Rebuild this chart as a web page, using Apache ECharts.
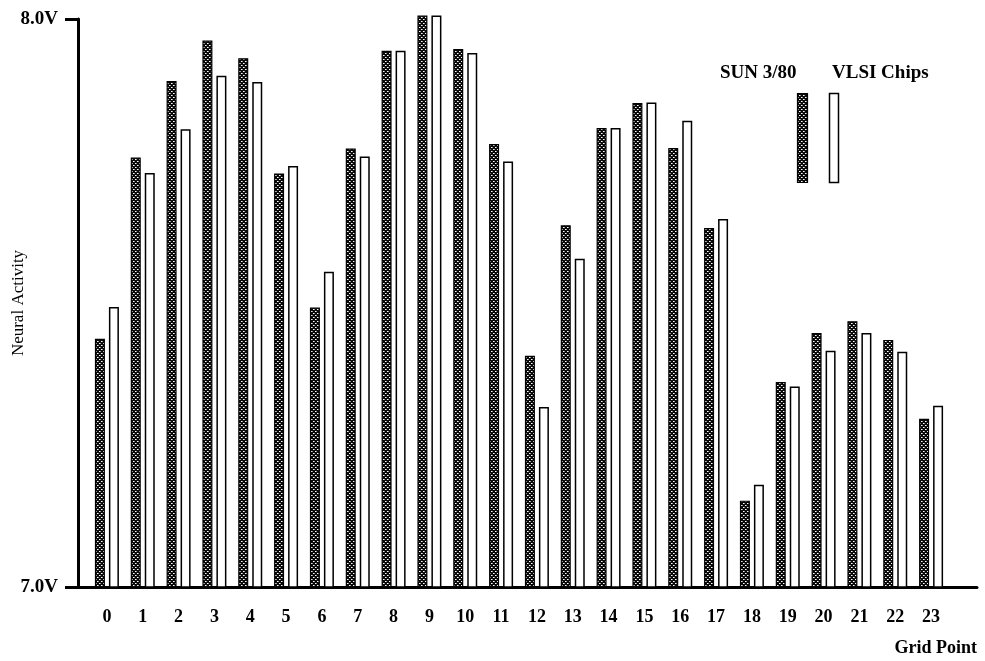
<!DOCTYPE html>
<html>
<head>
<meta charset="utf-8">
<title>Neural Activity</title>
<script src="https://cdn.jsdelivr.net/npm/echarts@6/dist/echarts.min.js"></script>
<style>
  html, body { margin: 0; padding: 0; background: #fff; }
  #chart { width: 985px; height: 661px; }
</style>
</head>
<body>
<div id="chart"></div>
<script>
  /** grid points on the x axis */
  const gridPoints = ['0', '1', '2', '3', '4', '5', '6', '7', '8', '9', '10', '11',
    '12', '13', '14', '15', '16', '17', '18', '19', '20', '21', '22', '23']

  /** SUN 3/80 simulation (volts) */
  const sunValues = [7.437, 7.756, 7.891, 7.962, 7.931, 7.728, 7.492, 7.772, 7.944, 8.006, 7.947, 7.780,
    7.407, 7.637, 7.808, 7.852, 7.773, 7.632, 7.152, 7.361, 7.447, 7.468, 7.435, 7.296]

  /** VLSI chips measurement (volts) */
  const vlsiValues = [7.493, 7.729, 7.806, 7.900, 7.889, 7.741, 7.555, 7.758, 7.944, 8.006, 7.940, 7.749,
    7.317, 7.578, 7.808, 7.853, 7.821, 7.648, 7.180, 7.353, 7.416, 7.447, 7.414, 7.319]

  /** y axis range (bars get a little headroom so bar 9 is not clipped) */
  const yMin = 7
  const yMax = 8
  const barMax = 8.01

  const font = '"Liberation Serif", "Times New Roman", serif'

  /** dotted fill like the old laser-printer screen */
  function makePattern() {
    const c = document.createElement('canvas')
    c.width = 4
    c.height = 4
    const ctx = c.getContext('2d')
    ctx.fillStyle = '#0a0a0a'
    ctx.fillRect(0, 0, 4, 4)
    ctx.fillStyle = '#ffffff'
    ctx.fillRect(1, 1, 1, 1)
    ctx.fillRect(3, 3, 1, 1)
    ctx.fillStyle = '#9a9a9a'
    ctx.fillRect(2, 1, 1, 1)
    ctx.fillRect(0, 3, 1, 1)
    return c
  }
  const dots = makePattern()

  const plotTop = 19
  const plotBottom = 74
  const pxPerVolt = (661 - plotTop - plotBottom) / (yMax - yMin)

  const chart = echarts.init(document.getElementById('chart'))
  chart.setOption({
    animation: false,
    backgroundColor: '#fff',
    grid: [
      /** frame with the axis lines */
      { left: 78, right: 8, top: plotTop, bottom: plotBottom, outerBoundsMode: 'none', containLabel: false },
      /** bars */
      { left: 89, right: 36, top: plotTop - (barMax - yMax) * pxPerVolt, bottom: plotBottom,
        outerBoundsMode: 'none', containLabel: false }
    ],
    xAxis: [
      {
        gridIndex: 0,
        type: 'value',
        min: 0,
        max: 1,
        axisLine: { onZero: false, lineStyle: { color: '#000', width: 3 } },
        axisTick: { show: false },
        axisLabel: { show: false },
        splitLine: { show: false },
        name: 'Grid Point',
        nameLocation: 'end',
        nameGap: 0,
        nameTextStyle: {
          fontFamily: font, fontSize: 18, fontWeight: 'bold', color: '#000',
          align: 'right', verticalAlign: 'top', padding: [52, 0, 0, 0]
        }
      },
      {
        gridIndex: 1,
        type: 'category',
        data: gridPoints,
        axisLine: { show: false },
        axisTick: { show: false },
        axisLabel: { margin: 21, fontFamily: font, fontSize: 18, fontWeight: 'bold', color: '#000' },
        splitLine: { show: false }
      }
    ],
    yAxis: [
      {
        gridIndex: 0,
        type: 'value',
        min: yMin,
        max: yMax,
        interval: 1,
        axisLine: { show: true, onZero: false, lineStyle: { color: '#000', width: 3 } },
        axisTick: { show: true, length: 13, lineStyle: { color: '#000', width: 3 } },
        axisLabel: {
          margin: 20, fontFamily: font, fontSize: 19, fontWeight: 'bold', color: '#000',
          formatter: v => v.toFixed(1) + 'V'
        },
        splitLine: { show: false },
        name: 'Neural Activity',
        nameLocation: 'middle',
        nameGap: 51,
        nameMoveOverlap: false,
        nameTextStyle: { fontFamily: font, fontSize: 17, color: '#000' }
      },
      {
        gridIndex: 1,
        type: 'value',
        min: yMin,
        max: barMax,
        show: false
      }
    ],
    series: [
      {
        name: 'SUN 3/80',
        type: 'bar',
        xAxisIndex: 1,
        yAxisIndex: 1,
        data: sunValues,
        barWidth: 10,
        barGap: '40%',
        itemStyle: { color: { image: dots, repeat: 'repeat' }, borderColor: '#000', borderWidth: 1.2 }
      },
      {
        name: 'VLSI Chips',
        type: 'bar',
        xAxisIndex: 1,
        yAxisIndex: 1,
        data: vlsiValues,
        barWidth: 10,
        itemStyle: { color: '#fff', borderColor: '#000', borderWidth: 1.5 }
      }
    ],
    /** legend drawn as in the original: labels over tall swatches */
    graphic: [
      { type: 'text', left: 720, top: 64, style: { text: 'SUN 3/80', font: 'bold 19px ' + font, fill: '#000' } },
      { type: 'text', left: 832, top: 64, style: { text: 'VLSI Chips', font: 'bold 19px ' + font, fill: '#000' } },
      { type: 'rect', shape: { x: 797.5, y: 93.5, width: 10, height: 89 },
        style: { fill: { image: dots, repeat: 'repeat' }, stroke: '#000', lineWidth: 1.2 } },
      { type: 'rect', shape: { x: 829.5, y: 93.5, width: 9, height: 89 },
        style: { fill: '#fff', stroke: '#000', lineWidth: 1.5 } }
    ]
  })
</script>
</body>
</html>
